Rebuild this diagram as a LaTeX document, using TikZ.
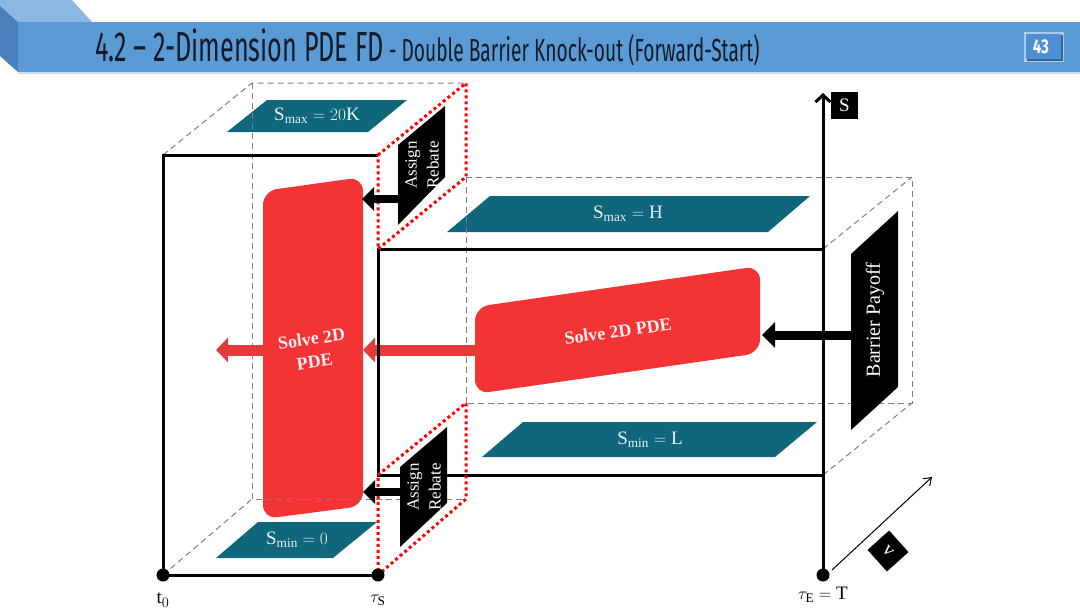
\documentclass[tikz,border=0pt]{standalone}
\usepackage{fontspec}
\setmainfont{Liberation Serif}
\newfontfamily\titlefont[FakeStretch=0.6]{Fira Sans}
\newfontfamily\numfont[FakeStretch=0.75]{Fira Sans}
\usetikzlibrary{arrows.meta}
\definecolor{hdr}{HTML}{5B9BD5}
\definecolor{hdrtop}{HTML}{8DB6E3}
\definecolor{hdrside}{HTML}{4A80BC}
\definecolor{hdrline}{HTML}{C9DDF2}
\definecolor{titlecol}{HTML}{141A28}
\definecolor{plate}{HTML}{10667A}
\definecolor{platetext}{HTML}{E6F4F6}
\definecolor{redshape}{HTML}{F43434}
\definecolor{redarrow}{HTML}{E43A3A}
\definecolor{redtext}{HTML}{FFECEC}
\definecolor{dashgray}{HTML}{7F7F7F}
\definecolor{numbox}{HTML}{4F8FD3}
\definecolor{numborder}{HTML}{A9CBEE}
\tikzset{
  blk/.style={line width=3pt, black},
  dsh/.style={dashgray, line width=1pt, dash pattern=on 6pt off 4pt},
  rdot/.style={red, line width=3pt, dash pattern=on 3pt off 3pt},
  platestyle/.style={fill=plate},
  platelabel/.style={text=platetext, inner sep=0, font=\fontsize{19}{19}\selectfont},
  redlabel/.style={text=redtext, inner sep=0, font=\fontsize{18}{23}\selectfont\bfseries, align=center, rotate=8},
  blklabel/.style={text=white, inner sep=0, font=\fontsize{17}{22}\selectfont, align=center, rotate=90},
  axlabel/.style={inner sep=0, font=\fontsize{19}{19}\selectfont},
  blkarrow/.style={line width=8.5pt, black, -{Triangle[width=23pt,length=12pt]}},
  redarr/.style={line width=11pt, redarrow, -{Triangle[width=24pt,length=12pt]}},
  dotstyle/.style={circle, fill=black, inner sep=0, minimum size=13pt}
}
\begin{document}
\begin{tikzpicture}[x=1pt,y=-1pt]
\useasboundingbox (0,0) rectangle (1080,608);
% ---------- header ----------
\fill[hdrtop] (0,0) -- (72,0) -- (92,22) -- (18,22) -- (0,6) -- cycle;
\fill[hdrside] (0,6) -- (18,22) -- (18,72) -- (0,56) -- cycle;
\fill[hdr] (18,22) rectangle (1080,72);
\fill[hdrline] (18,72) rectangle (1080,74);
\node[anchor=base west, inner sep=0, text=titlecol] (title) at (95,61)
  {\titlefont\fontsize{42}{42}\selectfont 4.2 – 2-Dimension PDE FD\fontsize{32}{32}\selectfont{} - Double Barrier Knock-out (Forward-Start)};
\fill[numborder] (1024,32) rectangle (1064,62);
\fill[numbox!70!black] (1027,35) rectangle (1063,61);
\fill[numbox] (1026,34) rectangle (1061,59);
\node[text=white, inner sep=0, font=\numfont\bfseries\fontsize{20}{20}\selectfont] (pagenum) at (1041,47) {43};
% ---------- coordinates ----------
\coordinate (t0) at (163,575);
\coordinate (tS) at (378,575);
\coordinate (tE) at (823,575);
\coordinate (A) at (163,155);
\coordinate (B) at (378,155);
\coordinate (C) at (378,249);
\coordinate (D) at (378,475);
\coordinate (E) at (823,249);
\coordinate (F) at (823,475);
\coordinate (Stop) at (823,93);
\coordinate (Ab) at (252,83);
\coordinate (Bb) at (466,83);
\coordinate (Cb) at (466,177);
\coordinate (Db) at (466,403);
\coordinate (Eb) at (912,177);
\coordinate (Fb) at (912,403);
\coordinate (t0b) at (252,499);
\coordinate (tSb) at (466,499);
% ---------- plates ----------
\fill[platestyle] (227,132) -- (368,132) -- (407,100) -- (267,100) -- cycle;
\node[platelabel] (smax1) at (317,116) {$\mathrm{S}_{\mathrm{max}} = 20\mathrm{K}$};
\fill[platestyle] (216,558) -- (333,558) -- (377,522) -- (258,522) -- cycle;
\node[platelabel] (smin1) at (297,540) {$\mathrm{S}_{\mathrm{min}} = 0$};
\fill[platestyle] (447,232) -- (768,232) -- (810,196) -- (490,196) -- cycle;
\node[platelabel] (smax2) at (628,214) {$\mathrm{S}_{\mathrm{max}} = \mathrm{H}$};
\fill[platestyle] (482,457) -- (775,457) -- (817,422) -- (523,422) -- cycle;
\node[platelabel] (smin2) at (650,440) {$\mathrm{S}_{\mathrm{min}} = \mathrm{L}$};
% ---------- red shapes ----------
\fill[redshape, rounded corners=14pt] (263,191) -- (363,177) -- (363,506) -- (263,519) -- cycle;
\node[redlabel] (solveL) at (313,350) {Solve 2D\\PDE};
\fill[redshape, rounded corners=14pt] (475,307) -- (760,266) -- (760,353) -- (475,394) -- cycle;
\node[redlabel] (solveR) at (618,331) {Solve 2D PDE};
\coordinate (redR) at (476,350);
\coordinate (redLin) at (363,350);
\coordinate (redLout) at (264,350);
\coordinate (leftTip) at (216,350);
% ---------- dashed cube edges ----------
\draw[dsh] (A) -- (Ab) -- (Bb);
\draw[dsh] (Ab) -- (t0b) -- (tSb);
\draw[dsh] (t0) -- (t0b);
\draw[dsh] (Cb) -- (Db);
\draw[dsh] (Cb) -- (Eb) -- (Fb) -- (Db);
\draw[dsh] (E) -- (Eb);
\draw[dsh] (F) -- (Fb);
% ---------- red arrows ----------
\draw[redarr] (redR) -- (redLin);
\draw[redarr] (redLout) -- (leftTip);
% ---------- black frame ----------
\draw[blk] (t0) -- (A) -- (B);
\draw[blk] (t0) -- (tS);
\draw[blk] (E) -- (C) -- (D) -- (F);
\draw[line width=3pt, -{Straight Barb[length=7pt,width=15pt]}] (tE) -- (Stop);
% ---------- red dotted faces ----------
\draw[rdot] (B) -- (Bb) -- (Cb) -- (C) -- cycle;
\draw[rdot] (D) -- (Db) -- (tSb) -- (tS) -- cycle;
% ---------- black trapezoids ----------
\fill[black] (398,145) -- (445,106) -- (445,177) -- (398,225) -- cycle;
\node[blklabel] (rebU) at (422,165) {Assign\\Rebate};
\fill[black] (400,467) -- (447,427) -- (447,503) -- (400,547) -- cycle;
\node[blklabel] (rebL) at (424,487) {Assign\\Rebate};
\fill[black] (851,254) -- (898,211) -- (898,387) -- (851,430) -- cycle;
\node[blklabel, font=\fontsize{20}{20}\selectfont] (payoff) at (875,320) {Barrier Payoff};
\coordinate (rebUout) at (399,199);
\coordinate (rebUtip) at (362,199);
\coordinate (rebLout) at (401,492);
\coordinate (rebLtip) at (363,492);
\coordinate (payout) at (852,335);
\coordinate (paytip) at (762,335);
\draw[blkarrow] (rebUout) -- (rebUtip);
\draw[blkarrow] (rebLout) -- (rebLtip);
\draw[blkarrow, line width=9pt, -{Triangle[width=25pt,length=13pt]}] (payout) -- (paytip);
% ---------- dots and labels ----------
\node[dotstyle] (dt0) at (t0) {};
\node[dotstyle] (dtS) at (tS) {};
\node[dotstyle] (dtE) at (tE) {};
\node[axlabel] (lt0) at (163,600) {$\mathrm{t}_0$};
\node[axlabel] (ltS) at (378,600) {$\tau_{\mathrm{S}}$};
\node[axlabel] (ltE) at (823,595) {$\tau_{\mathrm{E}} = \mathrm{T}$};
\node[fill=black, text=white, minimum size=27pt, inner sep=0, font=\fontsize{19}{19}\selectfont] (Slab) at (844.5,105.5) {S};
% ---------- v axis ----------
\coordinate (vstart) at (832,570);
\coordinate (vend) at (932,477);
\draw[line width=1pt, -{Straight Barb[length=7pt,width=10pt]}] (vstart) -- (vend);
\node[fill=black, text=white, minimum size=29pt, inner sep=0, rotate=-48, font=\fontsize{19}{19}\selectfont] (vlab) at (888,551) {v};
\end{tikzpicture}
\end{document}
